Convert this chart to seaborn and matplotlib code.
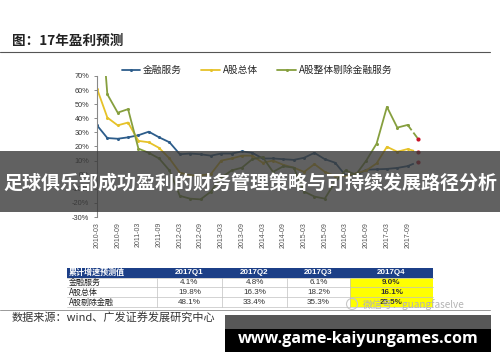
import numpy as np
import pandas as pd
import seaborn as sns
import matplotlib.pyplot as plt
from matplotlib.patches import Rectangle, Circle

# quarterly cumulative growth, 2010Q1 .. 2017Q4 (last point is the forecast)
quarter_labels = ["2010-03", "2010-09", "2011-03", "2011-09", "2012-03", "2012-09",
                  "2013-03", "2013-09", "2014-03", "2014-09", "2015-03", "2015-09",
                  "2016-03", "2016-09", "2017-03", "2017-09"]
fin_services = [35, 26, 25.5, 26.5, 28, 30.5, 26.5, 23,
                14.5, 15, 14.5, 13.5, 15, 15, 16.5, 15.5,
                11.5, 11.5, 11, 10.5, 12, 15.5, 11, 8.5,
                -0.5, -0.5, 3.5, 3.8, 4.1, 4.8, 6.1, 9.0]
a_share_all = [61, 40.5, 35, 37, 24, 23, 19, 11.5,
               1.5, -0.5, -0.5, 0.5, 10, 11.5, 13.5, 13.5,
               8.5, 10, 7, 5, 2, 7.5, 2, -1,
               -1, 1, 3, 8, 19.8, 16.3, 18.2, 16.1]
a_share_ex_fin = [150, 57, 44, 46.5, 18.5, 15.5, 11.5, 3,
                  -15, -17, -17.5, -12, -2, 3, 5, 11,
                  12.5, 2, 6, 5, -12, -15.5, -17, -5,
                  3, 0, 10, 22, 48.1, 33.4, 35.3, 25.5]
series_names = ["金融服务", "A股总体", "A股整体剔除金融服务"]
series_colors = ["#2d5d8b", "#e6c229", "#869f3e"]

table_header = ["累计增速预测值", "2017Q1", "2017Q2", "2017Q3", "2017Q4"]
table_rows = ["金融服务", "A股总体", "A股剔除金融"]
table_values = [["4.1%", "4.8%", "6.1%", "9.0%"],
                ["19.8%", "16.3%", "18.2%", "16.1%"],
                ["48.1%", "33.4%", "35.3%", "25.5%"]]

sns.set_theme(style="white")
plt.rcParams['font.family'] = ['Noto Sans CJK SC', 'DejaVu Sans']
plt.rcParams['axes.unicode_minus'] = False

W, H = 500, 362
fig = plt.figure(figsize=(5, 3.62), dpi=100)
fig.patch.set_facecolor('white')


def box(x0, y0, x1, y1):
    return [x0 / W, 1 - y1 / H, (x1 - x0) / W, (y1 - y0) / H]


# line chart
ax = fig.add_axes(box(97, 76, 418, 217))
q = np.arange(len(fin_services))
df = pd.DataFrame({"q": q, series_names[0]: fin_services,
                   series_names[1]: a_share_all, series_names[2]: a_share_ex_fin})

for name, color in zip(series_names, series_colors):
    solid = df.iloc[:-1]
    tail = df.iloc[-2:]
    sns.lineplot(data=solid, x="q", y=name, color=color, lw=1.3, marker="o",
                 markersize=2.2, markeredgewidth=0, ax=ax, label=name)
    sns.lineplot(data=tail, x="q", y=name, color=color, lw=1.3, ls="--",
                 ax=ax, legend=False)
    sns.scatterplot(x=[tail["q"].iloc[-1]], y=[tail[name].iloc[-1]], color="#c8142a",
                    s=9, linewidth=0, zorder=5, clip_on=False, ax=ax, legend=False)

ax.set_xlim(0, len(fin_services) - 1)
ax.set_ylim(-30, 70)
ax.set_yticks(range(-30, 71, 10))
ax.set_yticklabels([f"{v}%" for v in range(-30, 71, 10)], fontsize=5.3, color="#333333",
                   family=['Liberation Sans', 'DejaVu Sans'])
ax.set_xticks(range(0, len(fin_services), 2))
ax.set_xticklabels(quarter_labels, rotation=90, fontsize=5, color="#555555",
                   family=['Liberation Sans', 'DejaVu Sans'])
ax.tick_params(axis="y", left=True, length=2.5, width=0.6, color="#777777", pad=3)
ax.tick_params(axis="x", length=0, pad=3.5)
ax.set_xlabel("")
ax.set_ylabel("")
for s in ["top", "right", "bottom"]:
    ax.spines[s].set_visible(False)
ax.spines["left"].set_color("#888888")
ax.spines["left"].set_linewidth(0.8)
ax.patch.set_alpha(0)

ax.legend(loc="center", bbox_to_anchor=(257 / W, 1 - 70 / H), bbox_transform=fig.transFigure,
          ncol=3, frameon=False, fontsize=7, handlelength=1.9, handletextpad=0.3,
          columnspacing=2.0)

# overlay in pixel coordinates
ov = fig.add_axes([0, 0, 1, 1])
ov.set_xlim(0, W)
ov.set_ylim(H, 0)
ov.axis("off")

ov.text(12, 41, "图：17年盈利预测", fontsize=9.8, fontweight="bold", va="center", color="#222222")
ov.plot([0, 490], [52, 52], color="#555555", lw=0.8)

# table
cols = [67, 157, 222, 287, 350, 433]
rows = [268, 277.5, 287.3, 297.2, 307]
ov.add_patch(Rectangle((cols[0], rows[0]), cols[-1] - cols[0], rows[1] - rows[0],
                       facecolor="#1c3f87", edgecolor="none"))
ov.add_patch(Rectangle((cols[4], rows[1]), cols[5] - cols[4], rows[-1] - rows[1],
                       facecolor="#ffff00", edgecolor="none"))
for y in rows[1:]:
    ov.plot([cols[0], cols[-1]], [y, y], color="#c0c0c0", lw=0.5)
for x in cols[1:-1]:
    ov.plot([x, x], [rows[1], rows[-1]], color="#c0c0c0", lw=0.5)
for j, h in enumerate(table_header):
    if j == 0:
        ov.text(cols[0] + 2, (rows[0] + rows[1]) / 2, h, fontsize=5.8, color="white",
                fontweight="bold", va="center")
    else:
        ov.text((cols[j] + cols[j + 1]) / 2, (rows[0] + rows[1]) / 2, h, fontsize=5.8,
                color="white", fontweight="bold", ha="center", va="center",
                family=['Liberation Sans', 'DejaVu Sans'])
for i, (label, vals) in enumerate(zip(table_rows, table_values)):
    yc = (rows[i + 1] + rows[i + 2]) / 2
    ov.text(cols[0] + 2, yc, label, fontsize=5.8, color="#222222", va="center")
    for j, v in enumerate(vals):
        ov.text((cols[j + 1] + cols[j + 2]) / 2, yc, v, fontsize=5.8, color="#333333",
                ha="center", va="center", fontweight="bold" if j == 3 else "normal",
                family=['Liberation Sans', 'DejaVu Sans'])

# watermark
ov.add_patch(Circle((352, 304), 5.5, facecolor="none", edgecolor="#c8c8c8", lw=0.8))
ov.text(363, 305, "微信号：guangfaselve", fontsize=7.2, color="#b4b4b4", va="center")
ov.plot([0, 490], [310, 310], color="#999999", lw=0.7)

ov.text(12, 317, "数据来源：wind、广发证券发展研究中心", fontsize=8, color="#333333", va="center")

# overlay banners
ov.add_patch(Rectangle((0, 151), W, 61, facecolor="#3a3a3a", alpha=0.8, edgecolor="none"))
ov.text(250, 183, "足球俱乐部成功盈利的财务管理策略与可持续发展路径分析", fontsize=13.7,
        fontweight="bold", color="white", ha="center", va="center")
ov.add_patch(Rectangle((225, 315), 266, 14, facecolor="#575757", edgecolor="none"))
ov.add_patch(Rectangle((225, 329), 266, 23, facecolor="black", edgecolor="none"))
ov.text(358, 339, "www.game-kaiyungames.com", fontsize=11.6, fontweight="bold", color="white",
        ha="center", va="center", family=["Open Sans", "DejaVu Sans"])

fig.savefig("out.png", dpi=100)
